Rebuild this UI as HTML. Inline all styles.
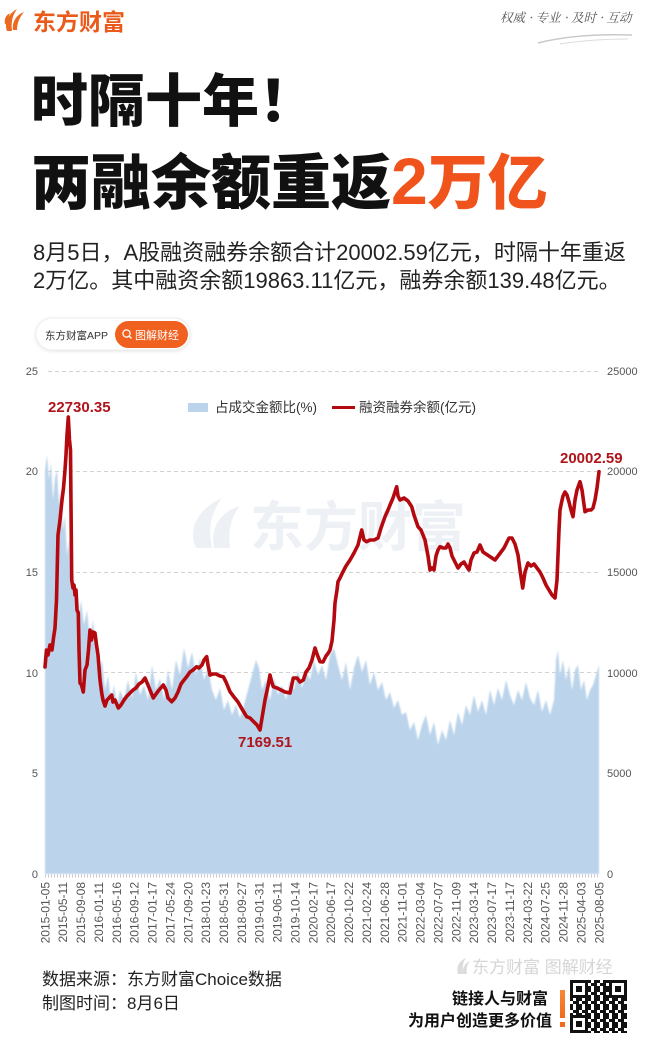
<!DOCTYPE html>
<html>
<head>
<meta charset="utf-8">
<style>
html,body{margin:0;padding:0;background:#fff;}
body{width:658px;height:1043px;overflow:hidden;position:relative;}
svg{position:absolute;left:0;top:0;display:block;}
</style>
</head>
<body>
<svg width="658" height="1043" viewBox="0 0 658 1043" xmlns="http://www.w3.org/2000/svg" font-family="'Liberation Sans','Noto Sans CJK SC',sans-serif">
  <defs>
    <filter id="soft" x="-5%" y="-5%" width="110%" height="110%">
      <feGaussianBlur stdDeviation="0.7"/>
    </filter>
    <filter id="shadow" x="-10%" y="-30%" width="120%" height="160%">
      <feDropShadow dx="0" dy="1" stdDeviation="1.5" flood-color="#000" flood-opacity="0.10"/>
    </filter>
    <pattern id="qrp" x="570" y="980" width="9" height="9" patternUnits="userSpaceOnUse">
      <rect x="0" y="0" width="3" height="3" fill="#111"/>
      <rect x="6" y="0" width="3" height="3" fill="#111"/>
      <rect x="3" y="3" width="3" height="3" fill="#111"/>
      <rect x="0" y="6" width="3" height="3" fill="#111"/>
      <rect x="6" y="6" width="3" height="3" fill="#111"/>
      <rect x="6" y="3" width="3" height="3" fill="#111"/>
    </pattern>
    <linearGradient id="og" x1="0" y1="0" x2="0" y2="1">
      <stop offset="0" stop-color="#f58a3a"/>
      <stop offset="1" stop-color="#f26a1b"/>
    </linearGradient>
  </defs>

  <!-- ===== Header ===== -->
  <g fill="#ec6a1f">
    <path d="M7 31 C4 23,8 14,17 9 C12 16,11 23,12 31 Z"/>
    <path d="M13 30 C12 22,16 15,24 12 C19 18,17 24,17 30 Z"/>
    <path d="M5 24 C4 19,6 15,10 13 C8 17,8 21,9 25 Z"/>
  </g>
  <text x="33" y="30" font-size="23" font-weight="700" fill="#ea5b1b" font-family="'Noto Sans CJK SC',sans-serif">东方财富</text>
  <text x="500" y="22" font-size="12.5" fill="#555" font-style="italic" font-family="'Noto Serif CJK SC','Noto Sans CJK SC',serif">权威 · 专业 · 及时 · 互动</text>
  <path d="M538 43 C565 36,600 34,632 35" stroke="#c9c9c9" stroke-width="1.5" fill="none"/>
  <path d="M560 44 C585 40,605 39,628 39" stroke="#dcdcdc" stroke-width="1" fill="none"/>

  <!-- ===== Title ===== -->
  <text x="31" y="121" font-size="57" font-weight="900" fill="#111" font-family="'Noto Sans CJK SC',sans-serif">时隔十年！</text>
  <text x="31" y="204" font-size="60" font-weight="900" fill="#111" font-family="'Noto Sans CJK SC',sans-serif">两融余额重返<tspan fill="#f0531c" font-family="'Liberation Sans',sans-serif" font-weight="700" font-size="66">2</tspan><tspan fill="#f0531c">万亿</tspan></text>

  <!-- ===== Subtitle ===== -->
  <text x="33" y="260" font-size="22" fill="#222">8月5日，A股融资融券余额合计20002.59亿元，时隔十年重返</text>
  <text x="33" y="288" font-size="22" fill="#222">2万亿。其中融资余额19863.11亿元，融券余额139.48亿元。</text>

  <!-- ===== Pill ===== -->
  <rect x="36" y="318" width="154" height="32" rx="16" fill="#fff" stroke="#ededed" filter="url(#shadow)"/>
  <rect x="115" y="321" width="73" height="27" rx="13.5" fill="#f0601e"/>
  <text x="45" y="339" font-size="10.5" fill="#333">东方财富APP</text>
  <circle cx="126.5" cy="333.5" r="3.6" stroke="#fff" stroke-width="1.3" fill="none"/>
  <line x1="129" y1="336" x2="131.5" y2="338.5" stroke="#fff" stroke-width="1.3"/>
  <text x="135" y="339" font-size="11" fill="#fff">图解财经</text>

  <!-- ===== Chart watermark ===== -->
  <g fill="#edf0f4">
    <path d="M196 548 C188 530,196 510,222 498 C210 514,208 530,212 548 Z"/>
    <path d="M214 548 C210 528,220 512,240 506 C230 518,228 532,230 548 Z"/>
  </g>
  <text x="250" y="546" font-size="54" font-weight="700" fill="#edf0f4" font-family="'Noto Sans CJK SC',sans-serif">东方财富</text>

  <!-- ===== Gridlines ===== -->
  <g stroke="#d2d2d2" stroke-width="1" stroke-dasharray="4 3">
    <line x1="48" y1="371.5" x2="600" y2="371.5"/>
    <line x1="48" y1="471.5" x2="600" y2="471.5"/>
    <line x1="48" y1="572.5" x2="600" y2="572.5"/>
    <line x1="48" y1="672.5" x2="600" y2="672.5"/>
    <line x1="48" y1="773.5" x2="600" y2="773.5"/>
  </g>

  <!-- ===== Blue area ===== -->
  <polygon filter="url(#soft)" fill="#bcd4eb" points="45,874 45,470 47,455 49,480 51,462 53,500 55,478 57,470 59,505 61,490 63,530 65,515 67,555 69,540 71,585 73,570 75,600 77,585 79,615 81,600 84,625 87,610 90,640 93,620 96,650 99,672 102,660 105,690 108,675 111,700 114,685 117,705 120,690 124,700 128,680 132,698 136,672 140,695 144,685 148,700 152,665 156,690 160,678 164,700 168,670 172,690 176,660 180,675 184,648 188,668 192,652 196,675 200,658 204,680 208,668 212,690 216,700 220,688 224,710 228,700 232,715 236,705 240,718 244,705 248,690 252,675 256,660 259,668 262,690 266,680 270,700 274,678 278,695 282,685 286,700 290,680 294,690 298,670 302,688 306,672 310,680 314,660 318,675 322,665 326,680 330,655 334,648 338,665 342,680 346,662 350,690 354,668 358,655 362,672 366,660 370,685 374,672 378,690 382,682 386,700 390,692 394,708 398,700 402,715 406,712 410,730 414,722 418,740 422,725 426,715 430,735 434,722 438,745 442,730 446,740 450,720 454,735 458,712 462,725 466,705 470,715 474,695 478,712 482,700 486,715 490,690 494,705 498,688 502,700 506,680 510,695 514,705 518,690 522,700 526,682 530,698 534,705 538,690 542,712 546,700 550,715 554,700 556,660 558,650 560,675 563,660 566,680 569,665 572,690 575,670 578,665 581,690 584,680 587,700 590,690 593,685 596,675 599,665 599,874"/>

  <!-- x-axis tick row -->
  <line x1="45" y1="876" x2="600" y2="876" stroke="#c8c8c8" stroke-width="3" stroke-dasharray="1 2"/>

  <!-- ===== Red line ===== -->
  <polyline fill="none" stroke="#b3090f" stroke-width="3.6" stroke-linejoin="round" stroke-linecap="round" points="45,667 46.5,650 48,655 50,645 52,650 53.5,638 55,628 56.5,600 58,535 60,520 62,500 63.5,488 65,470 66,455 67,435 68.3,417 69.5,440 70.5,450 71.7,580 73,588 74,585 75,595 76,590 77,610 78.3,613 79,650 80,683 81.5,685 83.3,692 85,670 87,665 88.5,650 90,630 91.5,640 93,632 95,633 96.5,645 98,655 100,680 101.7,693 103,700 105,706 107,700 109,698 111.7,695 113,702 115,700 118.3,708 121,705 124,700 127,696 130,693 133,690 136,688 139,684 142,682 145,678 148,685 150,690 153.3,698 156,694 159,690 163.3,685 166,690 168,698 171.7,701.7 175,698 178,692 181,684 184,680 186.7,676.7 190,672 193,670 196.7,666.7 199,668 202,665 204,660 206.7,656.7 208,665 210,675 213,674 216,674 220,676 223.3,676.7 226,682 230,691.7 234,697 238,702 242,709 246.7,716.7 250,718 254,722 257,725 260,730 262,718 265,700 268,686 270,675 272,683 273.3,686.7 277,688 281,690 285,692 290,693 293.3,678 297,678 300,682 303.3,680 306,672 309,668 312,660 315,648 317,654 320,661.7 323,662 326,656 328.3,653 330,650 332,641 334,620 335,603 337,590 338,581.7 340,578 343,571.7 346,566 350,560 354,553 358,545 361.7,530 364,540 366.7,541.7 370,540 374,540 378,538 381,528 385,516.7 388,510 390,505 393,498 396.7,486.7 398,496 400,500 404,498 408,501 411.7,506.7 414,515 418,526.7 421,530 425,540 428,556 430,570 432,568 434,570 436,556 438,550 440,546.7 443,548 446,548 448,544 450,548 452,556 455,562 458,568 461,564 464,562 467,567 469,570 471,560 474,553 477,552 480,545 483,552 486,554 489,556 492,558 495,560 498,556 501,552 504,548 507,542 509,538 512,538 515,544 518,555 520,570 522.7,588 525,572 528,563 531,566 534,564 537,568 540,572 543,578 546,585 549,590 552,595 555,598 557,580 558,555 559,530 560,510 561.7,501.7 563,496 565,492 567,495 569,502 571,510 573,516.7 575,500 577,490 580,481.7 582,490 585,511.7 588,510 591,510 593,508 595,500 597,488 599,471.7"/>

  <!-- annotations -->
  <g font-size="15" font-weight="700" fill="#b0141b">
    <text x="48" y="412">22730.35</text>
    <text x="238" y="747">7169.51</text>
    <text x="560" y="463">20002.59</text>
  </g>

  <!-- ===== Legend ===== -->
  <rect x="188" y="403" width="20" height="9" fill="#bcd4eb"/>
  <text x="215" y="412" font-size="13.5" fill="#333">占成交金额比(%)</text>
  <line x1="332" y1="407.5" x2="355" y2="407.5" stroke="#b3090f" stroke-width="3"/>
  <text x="359" y="412" font-size="13.5" fill="#333">融资融券余额(亿元)</text>

  <!-- ===== Y axis labels ===== -->
  <g font-size="11" fill="#555" text-anchor="end">
    <text x="38" y="375">25</text>
    <text x="38" y="475">20</text>
    <text x="38" y="576">15</text>
    <text x="38" y="677">10</text>
    <text x="38" y="777">5</text>
    <text x="38" y="878">0</text>
  </g>
  <g font-size="11" fill="#555">
    <text x="607" y="375">25000</text>
    <text x="607" y="475">20000</text>
    <text x="607" y="576">15000</text>
    <text x="607" y="677">10000</text>
    <text x="607" y="777">5000</text>
    <text x="607" y="878">0</text>
  </g>

  <!-- ===== X axis labels ===== -->
  <g font-size="12" fill="#555" text-anchor="end">
    <text transform="translate(49.3,882) rotate(-90)">2015-01-05</text>
    <text transform="translate(67.2,882) rotate(-90)">2015-05-11</text>
    <text transform="translate(85,882) rotate(-90)">2015-09-08</text>
    <text transform="translate(102.9,882) rotate(-90)">2016-01-11</text>
    <text transform="translate(120.8,882) rotate(-90)">2016-05-16</text>
    <text transform="translate(138.7,882) rotate(-90)">2016-09-12</text>
    <text transform="translate(156.5,882) rotate(-90)">2017-01-17</text>
    <text transform="translate(174.4,882) rotate(-90)">2017-05-24</text>
    <text transform="translate(192.3,882) rotate(-90)">2017-09-20</text>
    <text transform="translate(210.1,882) rotate(-90)">2018-01-23</text>
    <text transform="translate(228,882) rotate(-90)">2018-05-31</text>
    <text transform="translate(245.9,882) rotate(-90)">2018-09-27</text>
    <text transform="translate(263.7,882) rotate(-90)">2019-01-31</text>
    <text transform="translate(281.6,882) rotate(-90)">2019-06-11</text>
    <text transform="translate(299.5,882) rotate(-90)">2019-10-14</text>
    <text transform="translate(317.4,882) rotate(-90)">2020-02-17</text>
    <text transform="translate(335.2,882) rotate(-90)">2020-06-17</text>
    <text transform="translate(353.1,882) rotate(-90)">2020-10-22</text>
    <text transform="translate(371,882) rotate(-90)">2021-02-24</text>
    <text transform="translate(388.8,882) rotate(-90)">2021-06-28</text>
    <text transform="translate(406.7,882) rotate(-90)">2021-11-01</text>
    <text transform="translate(424.6,882) rotate(-90)">2022-03-04</text>
    <text transform="translate(442.4,882) rotate(-90)">2022-07-07</text>
    <text transform="translate(460.3,882) rotate(-90)">2022-11-09</text>
    <text transform="translate(478.2,882) rotate(-90)">2023-03-14</text>
    <text transform="translate(496.1,882) rotate(-90)">2023-07-17</text>
    <text transform="translate(513.9,882) rotate(-90)">2023-11-17</text>
    <text transform="translate(531.8,882) rotate(-90)">2024-03-22</text>
    <text transform="translate(549.7,882) rotate(-90)">2024-07-25</text>
    <text transform="translate(567.5,882) rotate(-90)">2024-11-28</text>
    <text transform="translate(585.4,882) rotate(-90)">2025-04-03</text>
    <text transform="translate(603.3,882) rotate(-90)">2025-08-05</text>
  </g>

  <!-- ===== Footer ===== -->
  <text x="42" y="985" font-size="17" fill="#222">数据来源：东方财富Choice数据</text>
  <text x="42" y="1009" font-size="17" fill="#222">制图时间：8月6日</text>

  <g fill="#dcdcdc">
    <path d="M458 974 C456 967,459 961,466 958 C463 962,462 967,463 974 Z"/>
    <path d="M463 974 C462 968,465 963,470 961 C467 965,466 969,467 974 Z"/>
  </g>
  <text x="472" y="973" font-size="17" fill="#d6d6d6">东方财富 图解财经</text>

  <text x="548" y="1004" font-size="16" font-weight="700" fill="#111" text-anchor="end">链接人与财富</text>
  <text x="552" y="1026" font-size="16" font-weight="700" fill="#111" text-anchor="end">为用户创造更多价值</text>
  <rect x="560" y="990" width="5" height="28" fill="url(#og)"/>
  <rect x="560" y="1022" width="5" height="5" fill="#f26a1b"/>

  <!-- QR code -->
  <rect x="570" y="980" width="57" height="53" fill="#fff"/>
  <rect x="570" y="980" width="57" height="53" fill="url(#qrp)"/>
  <g fill="#111">
    <rect x="570" y="980" width="18" height="18"/>
    <rect x="609" y="980" width="18" height="18"/>
    <rect x="570" y="1015" width="18" height="18"/>
  </g>
  <g fill="#fff">
    <rect x="573" y="983" width="12" height="12"/>
    <rect x="612" y="983" width="12" height="12"/>
    <rect x="573" y="1018" width="12" height="12"/>
  </g>
  <g fill="#111">
    <rect x="576" y="986" width="6" height="6"/>
    <rect x="615" y="986" width="6" height="6"/>
    <rect x="576" y="1021" width="6" height="6"/>
  </g>
</svg>
</body>
</html>
